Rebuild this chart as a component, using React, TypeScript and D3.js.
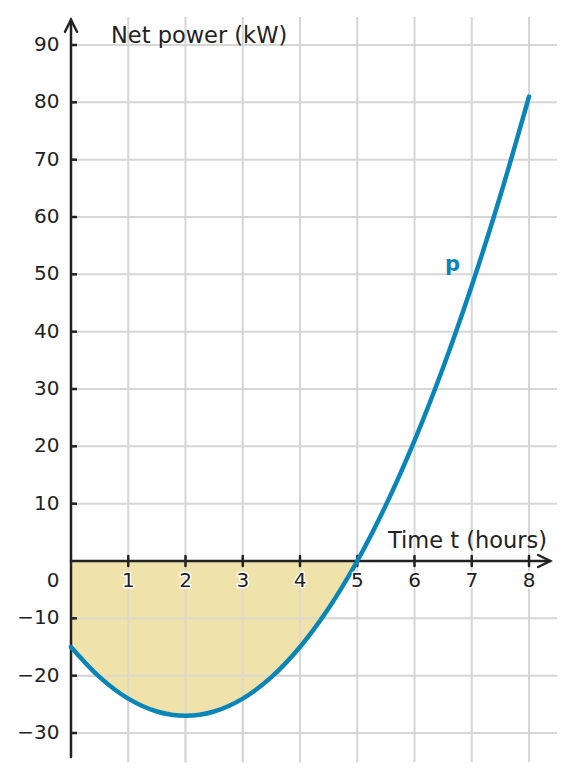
import * as d3 from "d3";
import React from "react";

// samples of net power p (kW), every half hour
const hours = [0, 0.5, 1, 1.5, 2, 2.5, 3, 3.5, 4, 4.5, 5, 5.5, 6, 6.5, 7, 7.5, 8];
const power = [-15, -20.25, -24, -26.25, -27, -26.25, -24, -20.25, -15, -8.25, 0, 9.75, 21, 33.75, 48, 63.75, 81];

const xTicks = [1, 2, 3, 4, 5, 6, 7, 8];
const yTicks = [-30, -20, -10, 10, 20, 30, 40, 50, 60, 70, 80, 90];

const width = 576;
const height = 780;

const BLUE = "#0a85b8";
const INK = "#222222";
const GRID = "#d6d6d6";
const SAND = "#eee2a6";

export default function App() {
  const x = d3.scaleLinear().domain([0, 8]).range([71, 529]);
  const y = d3.scaleLinear().domain([0, 90]).range([561, 45]);

  const pts = hours.map((t, i) => ({ t, p: power[i] }));
  const below = pts.filter((d) => d.t <= 5);

  const line = d3
    .line<{ t: number; p: number }>()
    .x((d) => x(d.t))
    .y((d) => y(d.p))
    .curve(d3.curveCatmullRom);

  const area = d3
    .area<{ t: number; p: number }>()
    .x((d) => x(d.t))
    .y0(y(0))
    .y1((d) => y(d.p))
    .curve(d3.curveCatmullRom);

  const font = "DejaVu Sans, sans-serif";
  const x0 = x(0);
  const y0 = y(0);
  const xEnd = x(8.37);
  const yTop = y(94.4);

  return (
    <svg
      width={width}
      height={height}
      viewBox={`0 0 ${width} ${height}`}
      style={{ position: "absolute", left: 0, top: 0, background: "#fff" }}
      fontFamily={font}
    >
      {/* grid */}
      <g stroke={GRID} strokeWidth={2}>
        {xTicks.map((t) => (
          <line key={"gx" + t} x1={x(t)} x2={x(t)} y1={y(94.9)} y2={y(-35.1)} />
        ))}
        {yTicks.map((v) => (
          <line key={"gy" + v} x1={x0} x2={x(8.49)} y1={y(v)} y2={y(v)} />
        ))}
      </g>

      <path d={area(below) ?? ""} fill={SAND} opacity={0.95} />
      {/* grid shows through the fill */}
      <g stroke={GRID} strokeWidth={2} opacity={0.7}>
        {xTicks.filter((t) => t < 5).map((t) => (
          <line key={"gf" + t} x1={x(t)} x2={x(t)} y1={y0} y2={y(-35.1)} />
        ))}
        {yTicks.filter((v) => v < 0).map((v) => (
          <line key={"gfy" + v} x1={x0} x2={x(5)} y1={y(v)} y2={y(v)} />
        ))}
      </g>

      {/* axes */}
      <g stroke={INK} strokeWidth={2.5} fill="none" strokeLinecap="round">
        <line x1={x0} x2={xEnd} y1={y0} y2={y0} />
        <line x1={x0} x2={x0} y1={y(-34.2)} y2={yTop} />
        <path d={`M${xEnd - 12},${y0 - 6} L${xEnd},${y0} L${xEnd - 12},${y0 + 6}`} strokeLinejoin="miter" />
        <path d={`M${x0 - 6},${yTop + 12} L${x0},${yTop} L${x0 + 6},${yTop + 12}`} strokeLinejoin="miter" />
        {xTicks.map((t) => (
          <line key={"tx" + t} x1={x(t)} x2={x(t)} y1={y0 - 5} y2={y0 + 5} />
        ))}
        {yTicks.map((v) => (
          <line key={"ty" + v} x1={x0} x2={x0 + 6} y1={y(v)} y2={y(v)} strokeLinecap="butt" />
        ))}
      </g>

      <path d={line(pts) ?? ""} fill="none" stroke={BLUE} strokeWidth={4.5} strokeLinecap="round" />

      {/* tick labels */}
      <g fill={INK} fontSize={20} textAnchor="end">
        {yTicks.map((v) => (
          <text key={"ly" + v} x={59.5} y={y(v) + 6}>
            {v < 0 ? "\u2212" + Math.abs(v) : v}
          </text>
        ))}
        <text x={59.5} y={587}>0</text>
      </g>
      <g fill={INK} fontSize={20} textAnchor="middle">
        {xTicks.map((t) => (
          <text
            key={"lx" + t}
            x={x(t)}
            y={587}
            stroke="#fff"
            strokeWidth={3}
            paintOrder="stroke"
            strokeLinejoin="round"
          >
            {t}
          </text>
        ))}
      </g>

      <text x={111} y={43} fontSize={22.5} fill={INK}>Net power (kW)</text>
      <text x={388} y={548} fontSize={22.5} fill={INK}>Time t (hours)</text>
      <text x={445} y={271} fontSize={21} fontWeight="bold" fill={BLUE}>p</text>
    </svg>
  );
}
